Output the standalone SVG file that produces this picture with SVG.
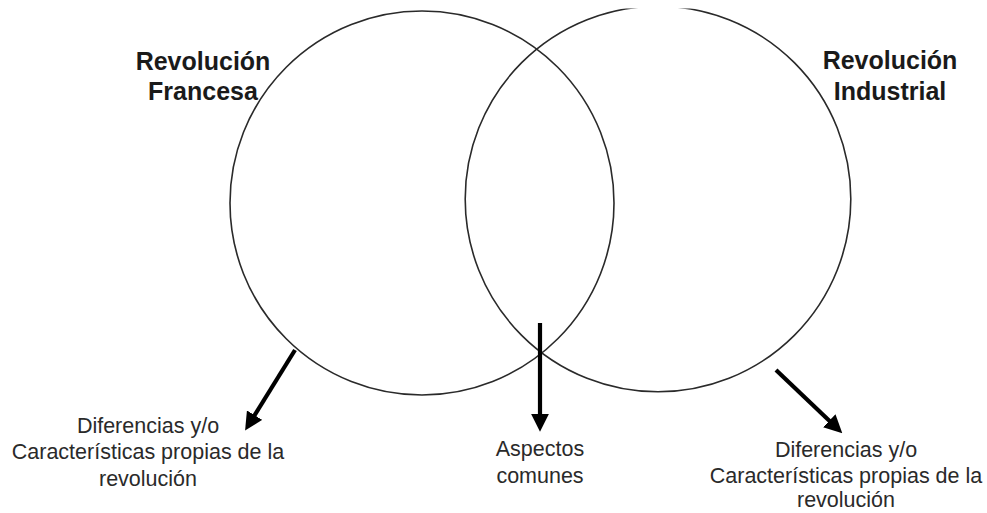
<svg xmlns="http://www.w3.org/2000/svg" width="987" height="513" viewBox="0 0 987 513">
  <style>
    .ring { fill: none; stroke: #2a2a2a; stroke-width: 1.6; }
    .title { font-family: "Liberation Sans", Arial, sans-serif; font-weight: bold; font-size: 25px; fill: #1a1a1a; text-anchor: middle; }
    .label { font-family: "Liberation Sans", Arial, sans-serif; font-size: 21.5px; fill: #2a2a2a; text-anchor: middle; }
    .arrow { stroke: #000; stroke-width: 4.2; fill: none; marker-end: url(#head); }
  </style>
  <defs>
    <marker id="head" markerUnits="userSpaceOnUse" markerWidth="18" markerHeight="18" viewBox="0 0 16 16" refX="2" refY="8" orient="auto">
      <path d="M0,0 L16,8 L0,16 Z" fill="#000"/>
    </marker>
    <clipPath id="topclip">
      <rect x="0" y="8.5" width="987" height="505"/>
    </clipPath>
  </defs>
  <rect width="987" height="513" fill="#fff"/>
  <g id="francesa">
    <circle class="ring" cx="422" cy="203" r="192"/>
    <text class="title" x="203" y="70">Revolución</text>
    <text class="title" x="203" y="100">Francesa</text>
  </g>
  <g id="industrial">
    <circle class="ring" cx="658" cy="199" r="192.8" clip-path="url(#topclip)"/>
    <text class="title" x="890" y="69">Revolución</text>
    <text class="title" x="890" y="100">Industrial</text>
  </g>
  <g id="label-francesa">
    <text class="label" x="148" y="433">Diferencias y/o</text>
    <text class="label" x="148" y="459">Características propias de la</text>
    <text class="label" x="148" y="486">revolución</text>
  </g>
  <g id="label-comunes">
    <text class="label" x="540" y="456">Aspectos</text>
    <text class="label" x="540" y="483">comunes</text>
  </g>
  <g id="label-industrial">
    <text class="label" x="846" y="457">Diferencias y/o</text>
    <text class="label" x="846" y="483">Características propias de la</text>
    <text class="label" x="846" y="507">revolución</text>
  </g>
  <g id="connectors">
    <line class="arrow" x1="295" y1="350" x2="253.4" y2="417.1"/>
    <line class="arrow" x1="540" y1="323" x2="540" y2="416"/>
    <line class="arrow" x1="776" y1="370" x2="830.9" y2="422.3"/>
  </g>
</svg>
